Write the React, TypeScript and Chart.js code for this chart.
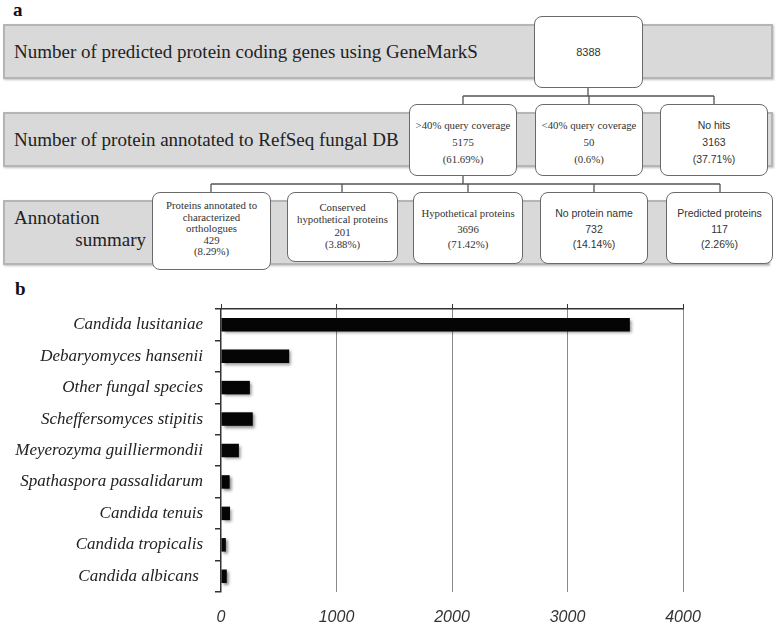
import React, { useEffect, useRef } from "react";
import { Chart, registerables } from "chart.js";

Chart.register(...registerables);

// ---------- Part b data ----------
const species = [
  "Candida lusitaniae",
  "Debaryomyces hansenii",
  "Other fungal species",
  "Scheffersomyces stipitis",
  "Meyerozyma guilliermondii",
  "Spathaspora passalidarum",
  "Candida tenuis",
  "Candida tropicalis",
  "Candida albicans ",
];
const hitCounts = [3540, 590, 250, 275, 155, 75, 78, 42, 50];
const xTickValues = [0, 1000, 2000, 3000, 4000];

// ---------- Part a data ----------
const rowTitles = [
  "Number of predicted protein coding genes using GeneMarkS",
  "Number of protein annotated to RefSeq fungal DB",
];
const summaryTitle = ["Annotation", "summary"];
const totalGenes = "8388";
const refseqCategories = [[">40% query coverage"], ["<40% query coverage"], ["No hits"]];
const refseqCounts = ["5175", "50", "3163"];
const refseqPercents = ["(61.69%)", "(0.6%)", "(37.71%)"];
const summaryCategories = [
  ["Proteins annotated to", "characterized", "orthologues"],
  ["Conserved", "hypothetical proteins"],
  ["Hypothetical proteins"],
  ["No protein name"],
  ["Predicted proteins"],
];
const summaryCounts = ["429", "201", "3696", "732", "117"];
const summaryPercents = ["(8.29%)", "(3.88%)", "(71.42%)", "(14.14%)", "(2.26%)"];

// ---------- layout (positions/styles) ----------
const SERIF = "'Liberation Serif', 'Times New Roman', serif";
const SANS = "'Liberation Sans', Arial, sans-serif";

const refseqLayout = [
  { left: 409, top: 104, w: 108, h: 72, font: SERIF, lh: 17, pt: 11.5 },
  { left: 535, top: 104, w: 108, h: 72, font: SERIF, lh: 17, pt: 11.5 },
  { left: 660, top: 104, w: 108, h: 72, font: SANS, lh: 17, pt: 11.5 },
];
const summaryLayout = [
  { left: 152, top: 192, w: 119, h: 78, font: SERIF, lh: 11.5, pt: 7.25 },
  { left: 287, top: 192, w: 111, h: 70, font: SERIF, lh: 12.3, pt: 8 },
  { left: 413, top: 192, w: 110, h: 72, font: SERIF, lh: 15.5, pt: 13.25 },
  { left: 540, top: 192, w: 108, h: 72, font: SANS, lh: 15.5, pt: 13.25 },
  { left: 666, top: 192, w: 107, h: 72, font: SANS, lh: 15.5, pt: 13.25 },
];

const shadowPlugin = {
  id: "barShadow",
  beforeDatasetDraw(chart: any) {
    const ctx = chart.ctx;
    ctx.save();
    ctx.shadowColor = "rgba(0,0,0,0.45)";
    ctx.shadowBlur = 3;
    ctx.shadowOffsetX = 2;
    ctx.shadowOffsetY = 2;
  },
  afterDatasetDraw(chart: any) {
    chart.ctx.restore();
  },
};

function Box(props: { layout: any; lines: string[] }) {
  const { layout, lines } = props;
  return (
    <div
      style={{
        position: "absolute",
        left: layout.left,
        top: layout.top,
        width: layout.w,
        height: layout.h,
        boxSizing: "border-box",
        background: "#fff",
        border: "1.3px solid #6a6a6a",
        borderRadius: 8,
        paddingTop: layout.pt,
        textAlign: "center",
        fontFamily: layout.font,
        fontSize: layout.font === SANS ? 10.5 : 10.8,
        lineHeight: layout.lh + "px",
        color: "#333",
        whiteSpace: "nowrap",
      }}
    >
      {lines.map((l, i) => (
        <div key={i} style={{ height: layout.lh }}>{l}</div>
      ))}
    </div>
  );
}

function grayBar(top: number, height: number, width: number): React.CSSProperties {
  return {
    position: "absolute",
    left: 3,
    top,
    width,
    height,
    boxSizing: "border-box",
    background: "#d9d9d9",
    border: "2px solid #b5b5b5",
    boxShadow: "1px 1px 2px rgba(0,0,0,0.25)",
  };
}

export default function App() {
  const canvasRef = useRef<HTMLCanvasElement | null>(null);

  useEffect(() => {
    if (!canvasRef.current) return;
    const chart = new Chart(canvasRef.current, {
      type: "bar",
      data: {
        labels: species,
        datasets: [
          {
            data: hitCounts,
            backgroundColor: "#050505",
            borderWidth: 0,
            barPercentage: 0.43,
            categoryPercentage: 1,
            xAxisID: "x",
          },
        ],
      },
      options: {
        indexAxis: "y",
        animation: false,
        responsive: false,
        devicePixelRatio: 1,
        layout: { padding: { top: 14, right: 95, bottom: 0, left: 0 } },
        plugins: { legend: { display: false }, tooltip: { enabled: false } },
        scales: {
          x: {
            type: "linear",
            position: "bottom",
            min: 0,
            max: 4000,
            afterBuildTicks: (s: any) => {
              s.ticks = xTickValues.map((v) => ({ value: v }));
            },
            afterFit: (s: any) => {
              s.height = 35;
            },
            grid: {
              color: (c: any) => (c.tick && c.tick.value === 0 ? "rgba(0,0,0,0)" : "#8a8a8a"),
              lineWidth: 1,
              drawTicks: false,
            },
            border: { display: false },
            ticks: {
              font: { family: "'Liberation Sans', Arial, sans-serif", size: 16, style: "italic" },
              color: "#333",
              padding: 16,
              maxRotation: 0,
              callback: (v: any) => String(v),
            },
          },
          xTop: {
            type: "linear",
            position: "top",
            min: 0,
            max: 4000,
            afterBuildTicks: (s: any) => {
              s.ticks = xTickValues.map((v) => ({ value: v }));
            },
            afterFit: (s: any) => {
              s.height = 5;
            },
            grid: { drawOnChartArea: false, drawTicks: true, tickLength: 5, color: "#333", lineWidth: 1 },
            border: { display: true, color: "#333", width: 1.5 },
            ticks: { display: false },
          },
          y: {
            type: "category",
            offset: true,
            grid: { offset: true, drawOnChartArea: false, drawTicks: true, tickLength: 6, color: "#333", lineWidth: 1.5 },
            border: { display: true, color: "#333", width: 1.5 },
            ticks: {
              font: { family: "'Liberation Serif', 'Times New Roman', serif", size: 17, style: "italic" },
              color: "#222",
              padding: 12,
              autoSkip: false,
            },
            afterFit: (s: any) => {
              s.width = 221;
              s.paddingTop = 0;
              s.paddingBottom = 0;
            },
          },
        },
      } as any,
      plugins: [shadowPlugin],
    });
    return () => chart.destroy();
  }, []);

  return (
    <div
      style={{
        position: "absolute",
        left: 0,
        top: 0,
        width: 778,
        height: 627,
        background: "#fff",
        overflow: "hidden",
      }}
    >
      {/* Part a */}
      <div style={{ position: "absolute", left: 13, top: 0, fontFamily: SERIF, fontWeight: "bold", fontSize: 19, lineHeight: "20px", color: "#111" }}>a</div>
      <div style={grayBar(24, 55, 770)} />
      <div style={grayBar(112, 55, 770)} />
      <div style={grayBar(200, 65, 766)} />
      <div style={{ position: "absolute", left: 14, top: 42, fontFamily: SERIF, fontSize: 19, lineHeight: "20px", color: "#222", whiteSpace: "nowrap" }}>{rowTitles[0]}</div>
      <div style={{ position: "absolute", left: 14, top: 130, fontFamily: SERIF, fontSize: 19, lineHeight: "20px", color: "#222", whiteSpace: "nowrap" }}>{rowTitles[1]}</div>
      <div style={{ position: "absolute", left: 14, top: 208, fontFamily: SERIF, fontSize: 19, lineHeight: "20px", color: "#222", whiteSpace: "nowrap" }}>{summaryTitle[0]}</div>
      <div style={{ position: "absolute", left: 0, width: 146, top: 230, textAlign: "right", fontFamily: SERIF, fontSize: 19, lineHeight: "20px", color: "#222", whiteSpace: "nowrap" }}>{summaryTitle[1]}</div>

      <svg width={778} height={300} style={{ position: "absolute", left: 0, top: 0 }}>
        <g stroke="#555" strokeWidth={1.3} fill="none">
          <path d="M588 88 V96 M463 96 H714 M463 96 V104 M589 96 V104 M714 96 V104" />
          <path d="M463 176 V184 M211 184 H720 M211 184 V192 M342 184 V192 M468 184 V192 M594 184 V192 M720 184 V192" />
        </g>
      </svg>

      <div
        style={{
          position: "absolute",
          left: 534,
          top: 16,
          width: 109,
          height: 72,
          boxSizing: "border-box",
          background: "#fff",
          border: "1.3px solid #6a6a6a",
          borderRadius: 8,
          display: "flex",
          alignItems: "center",
          justifyContent: "center",
          fontFamily: SANS,
          fontSize: 11,
          color: "#333",
        }}
      >
        {totalGenes}
      </div>
      {refseqLayout.map((l, i) => (
        <Box key={"r" + i} layout={l} lines={[...refseqCategories[i], refseqCounts[i], refseqPercents[i]]} />
      ))}
      {summaryLayout.map((l, i) => (
        <Box key={"s" + i} layout={l} lines={[...summaryCategories[i], summaryCounts[i], summaryPercents[i]]} />
      ))}

      {/* Part b */}
      <div style={{ position: "absolute", left: 15, top: 279, fontFamily: SERIF, fontWeight: "bold", fontSize: 19, lineHeight: "20px", color: "#111" }}>b</div>
      <canvas
        ref={canvasRef}
        width={778}
        height={337}
        style={{ position: "absolute", left: 0, top: 290, width: 778, height: 337 }}
      />
    </div>
  );
}
